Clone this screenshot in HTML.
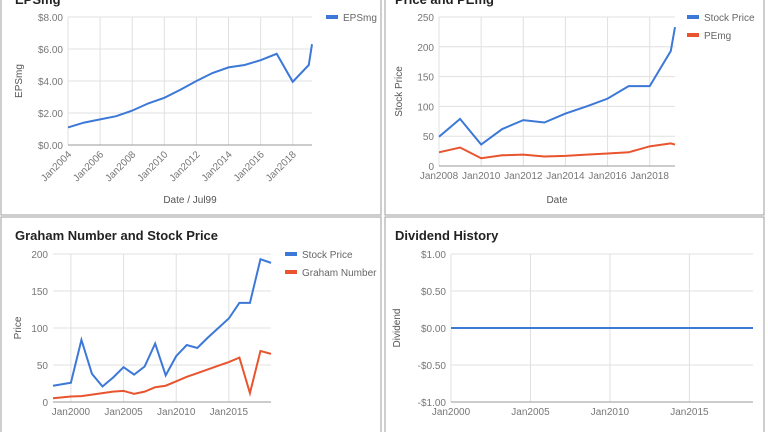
<!DOCTYPE html>
<html><head><meta charset="utf-8"><style>
body{margin:0;background:#fff;width:768px;height:432px;overflow:hidden;font-family:"Liberation Sans",Arial,sans-serif}
svg text{font-family:"Liberation Sans",Arial,sans-serif}
</style></head><body>
<svg id="s" width="768" height="432">
<rect x="1" y="-2" width="380" height="217" fill="none" stroke="#9e9e9e"/>
<rect x="385" y="-2" width="379" height="217" fill="none" stroke="#9e9e9e"/>
<rect x="1" y="217" width="380" height="220" fill="none" stroke="#9e9e9e"/>
<rect x="385" y="217" width="379" height="220" fill="none" stroke="#9e9e9e"/>
</svg>
<script>
// Chart 1: EPSmg
const epsYears=[2004,2005,2006,2007,2008,2009,2010,2011,2012,2013,2014,2015,2016,2017,2018,2019,2019.2];
const epsValues=[1.1,1.4,1.6,1.8,2.15,2.6,2.95,3.45,4.0,4.5,4.85,5.0,5.3,5.7,3.95,5.0,6.3];
const epsTicks=[0,2,4,6,8];
const epsTickLabels=["$0.00","$2.00","$4.00","$6.00","$8.00"];
const epsXTicks=[2004,2006,2008,2010,2012,2014,2016,2018];
// Chart 2: Price and PEmg
const ppYears=[2008,2009,2010,2011,2012,2013,2014,2015,2016,2017,2018,2019,2019.2];
const ppPrice=[49,79,36,62,77,73,88,100,113,134,134,193,233];
const ppPE=[23,31,13,18,19,16,17,19,21,23,33,38,36];
const ppTicks=[0,50,100,150,200,250];
const ppXTicks=[2008,2010,2012,2014,2016,2018];
// Chart 3: Graham
const grYears=[1998.3,2000,2001,2002,2003,2004,2005,2006,2007,2008,2009,2010,2011,2012,2013,2014,2015,2016,2017,2018,2019];
const grPrice=[22,26,84,38,21,33,47,37,48,79,36,62,77,73,87,100,113,134,134,193,188];
const grGraham=[5,7.5,8,10,12,14,15,11,14,20,22,28,34,39,44,49,54,60,12,69,65];
const grTicks=[0,50,100,150,200];
const grXTicks=[2000,2005,2010,2015];
// Chart 4: Dividend
const dvYears=[2000,2019];
const dvValues=[0,0];
const dvTicks=[-1,-0.5,0,0.5,1];
const dvTickLabels=["-$1.00","-$0.50","$0.00","$0.50","$1.00"];
const dvXTicks=[2000,2005,2010,2015];

const S=document.getElementById('s');const NS='http://www.w3.org/2000/svg';
function el(t,a,txt){const e=document.createElementNS(NS,t);for(const k in a)e.setAttribute(k,a[k]);if(txt!==undefined)e.textContent=txt;S.appendChild(e);return e;}
const BLUE='#3c78d8',RED='#e8542e';
function chart(c){
  const sx=v=>c.x0+(v-c.xmin)/(c.xmax-c.xmin)*(c.x1-c.x0);
  const sy=v=>c.yb-(v-c.ymin)/(c.ymax-c.ymin)*(c.yb-c.yt);
  c.xticks.forEach((t,i)=>{const x=sx(t);
    const g=el('line',{x1:x,x2:x,y1:c.yt,y2:c.yb,stroke:'#e0e0e0'});
    
    let lab;
    if(c.rot){lab=el('text',{x:x+4,y:c.yb+10,'font-size':10,fill:'#777','text-anchor':'end',transform:'rotate(-45 '+(x+4)+' '+(c.yb+10)+')'},'Jan'+t);}
    else{lab=el('text',{x:x,y:c.yb+13,'font-size':10,fill:'#777','text-anchor':'middle'},'Jan'+t);}
    
  });
  c.yticks.forEach((t,i)=>{const y=sy(t);
    const g=el('line',{x1:c.x0,x2:c.x1,y1:y,y2:y,stroke:(t===c.ymin?'#999':'#e0e0e0')});
    
    const l=el('text',{x:c.x0-5,y:y+4,'font-size':10,fill:'#777','text-anchor':'end'},c.ylabels?c.ylabels[i]:String(t));
    
  });
  c.series.forEach((s,si)=>{
    const p=el('polyline',{points:s.xs.map((v,i)=>sx(v)+','+sy(s.ys[i])).join(' '),fill:'none',stroke:s.color,'stroke-width':2});
    
    if(c.legend){const ly=c.legend[1]+si*18;
      const r=el('rect',{x:c.legend[0],y:ly-2,width:12,height:4,fill:s.color});
      
      const t=el('text',{x:c.legend[0]+17,y:ly+4,'font-size':10,fill:'#666'},s.name);
      }
  });
  const yt=el('text',{x:c.ytx,y:(c.yt+c.yb)/2,'font-size':10,fill:'#555','text-anchor':'middle',transform:'rotate(-90 '+c.ytx+' '+((c.yt+c.yb)/2)+')'},c.ytitle);
  
  if(c.xtitle){const xt=el('text',{x:(c.x0+c.x1)/2,y:c.xty,'font-size':10,fill:'#555','text-anchor':'middle'},c.xtitle);
    }
  const tt=el('text',{x:c.tx,y:c.ty,'font-size':13,'font-weight':'bold',fill:'#222'},c.title);
  
}
chart({id:'eps',x0:68,x1:312,xmin:2004,xmax:2019.2,yt:17,yb:145,ymin:0,ymax:8,xticks:epsXTicks,yticks:epsTicks,ylabels:epsTickLabels,rot:true,
  series:[{key:'epsmg',name:'EPSmg',color:BLUE,xs:epsYears,ys:epsValues}],legend:[326,17],ytitle:'EPSmg',ytx:22,xtitle:'Date / Jul99',xty:203,title:'EPSmg',tx:15,ty:4});
chart({id:'price-pe',x0:439,x1:675,xmin:2008,xmax:2019.2,yt:17,yb:166,ymin:0,ymax:250,xticks:ppXTicks,yticks:ppTicks,
  series:[{key:'stock-price',name:'Stock Price',color:BLUE,xs:ppYears,ys:ppPrice},{key:'pemg',name:'PEmg',color:RED,xs:ppYears,ys:ppPE}],legend:[687,17],ytitle:'Stock Price',ytx:402,xtitle:'Date',xty:203,title:'Price and PEmg',tx:395,ty:4});
chart({id:'graham',x0:53,x1:271,xmin:1998.3,xmax:2019,yt:254,yb:402,ymin:0,ymax:200,xticks:grXTicks,yticks:grTicks,
  series:[{key:'stock-price',name:'Stock Price',color:BLUE,xs:grYears,ys:grPrice},{key:'graham-number',name:'Graham Number',color:RED,xs:grYears,ys:grGraham}],legend:[285,254],ytitle:'Price',ytx:21,title:'Graham Number and Stock Price',tx:15,ty:240});
chart({id:'dividend',x0:451,x1:753,xmin:2000,xmax:2019,yt:254,yb:402,ymin:-1,ymax:1,xticks:dvXTicks,yticks:dvTicks,ylabels:dvTickLabels,
  series:[{key:'dividend',name:'Dividend',color:BLUE,xs:dvYears,ys:dvValues}],ytitle:'Dividend',ytx:400,title:'Dividend History',tx:395,ty:240});
</script>
</body></html>
